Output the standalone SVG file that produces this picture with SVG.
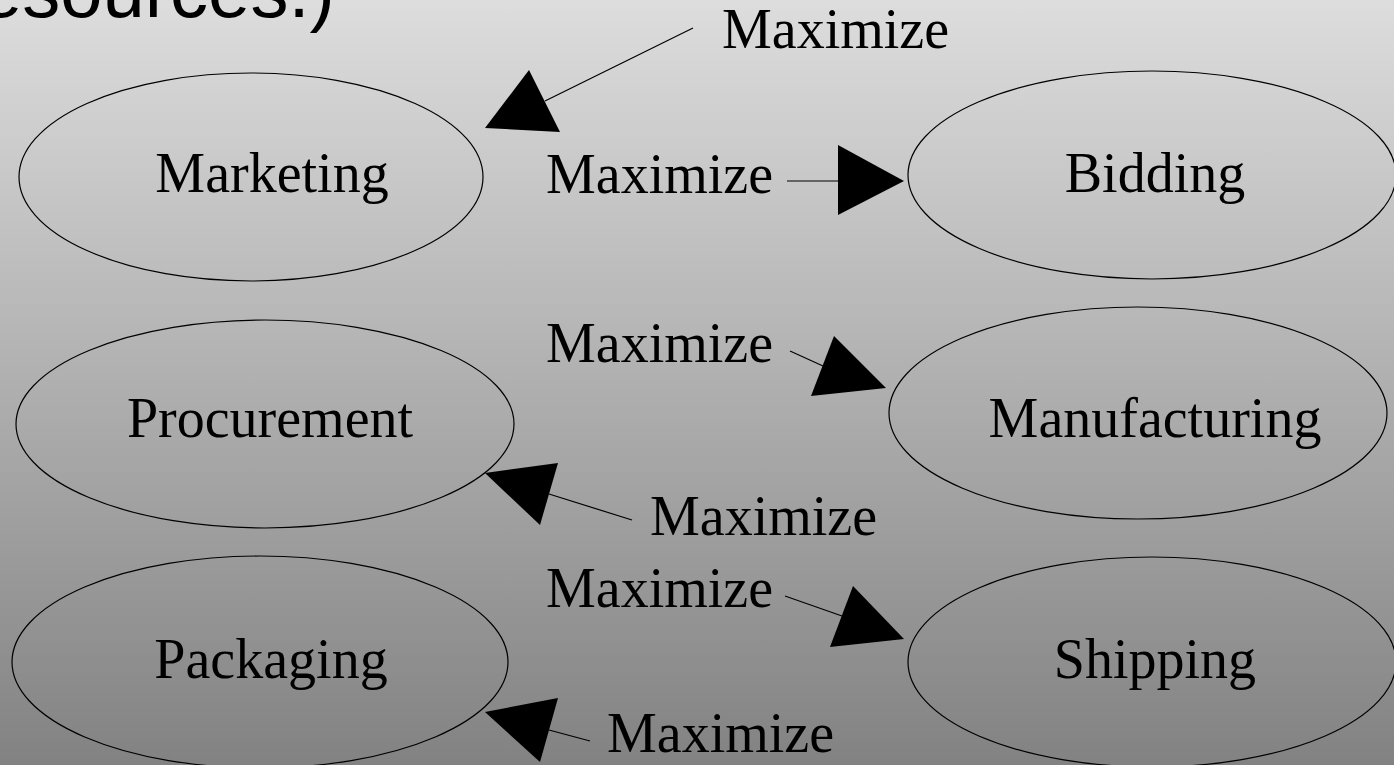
<svg xmlns="http://www.w3.org/2000/svg" width="1394" height="765" viewBox="0 0 1394 765">
<defs>
<linearGradient id="bg" x1="0" y1="0" x2="0" y2="1">
<stop offset="0" stop-color="#dddddd"/>
<stop offset="1" stop-color="#828282"/>
</linearGradient>
<style>
.node{fill:none;stroke:#000;stroke-width:1.2}
.lbl{font-family:"Liberation Serif","Times New Roman",serif;font-size:56px;fill:#000;text-anchor:middle}
.elbl{font-family:"Liberation Serif","Times New Roman",serif;font-size:56px;fill:#000}
.edge{stroke:#000;stroke-width:1.2;fill:none}
.head{fill:#000;stroke:none}
.title{font-family:"Liberation Sans",Arial,sans-serif;font-size:76px;fill:#000}
</style>
</defs>
<rect width="1394" height="765" fill="url(#bg)"/>
<text class="title" x="-20" y="17">esources.)</text>
<g id="node-marketing"><ellipse class="node" cx="251" cy="177" rx="232" ry="104"/><text class="lbl" x="272" y="192">Marketing</text></g>
<g id="node-bidding"><ellipse class="node" cx="1152" cy="175" rx="244" ry="104"/><text class="lbl" x="1155" y="192">Bidding</text></g>
<g id="node-procurement"><ellipse class="node" cx="265" cy="424" rx="249" ry="104"/><text class="lbl" x="270" y="437">Procurement</text></g>
<g id="node-manufacturing"><ellipse class="node" cx="1138" cy="413" rx="249" ry="106"/><text class="lbl" x="1155" y="437">Manufacturing</text></g>
<g id="node-packaging"><ellipse class="node" cx="260" cy="662" rx="248" ry="106"/><text class="lbl" x="271" y="678">Packaging</text></g>
<g id="node-shipping"><ellipse class="node" cx="1152" cy="662" rx="244" ry="105"/><text class="lbl" x="1155" y="678">Shipping</text></g>
<g id="connectors">
<g id="edge-1"><text class="elbl" x="722" y="48">Maximize</text><line class="edge" x1="693" y1="28" x2="545" y2="101"/><polygon class="head" points="485,128 529,70 560,132"/></g>
<g id="edge-2"><text class="elbl" x="546" y="193">Maximize</text><line class="edge" x1="787" y1="181" x2="840" y2="181"/><polygon class="head" points="904,181 838,145 838,215"/></g>
<g id="edge-3"><text class="elbl" x="546" y="362">Maximize</text><line class="edge" x1="790" y1="351" x2="823" y2="366"/><polygon class="head" points="886,388 834,336 811,396"/></g>
<g id="edge-4"><text class="elbl" x="650" y="535">Maximize</text><line class="edge" x1="632" y1="520" x2="549" y2="494"/><polygon class="head" points="485,473 558,463 540,525"/></g>
<g id="edge-5"><text class="elbl" x="546" y="607">Maximize</text><line class="edge" x1="785" y1="596" x2="842" y2="616"/><polygon class="head" points="904,639 853,586 830,647"/></g>
<g id="edge-6"><text class="elbl" x="607" y="752">Maximize</text><line class="edge" x1="590" y1="741" x2="549" y2="730"/><polygon class="head" points="485,712 558,698 540,762"/></g>
</g>
</svg>
